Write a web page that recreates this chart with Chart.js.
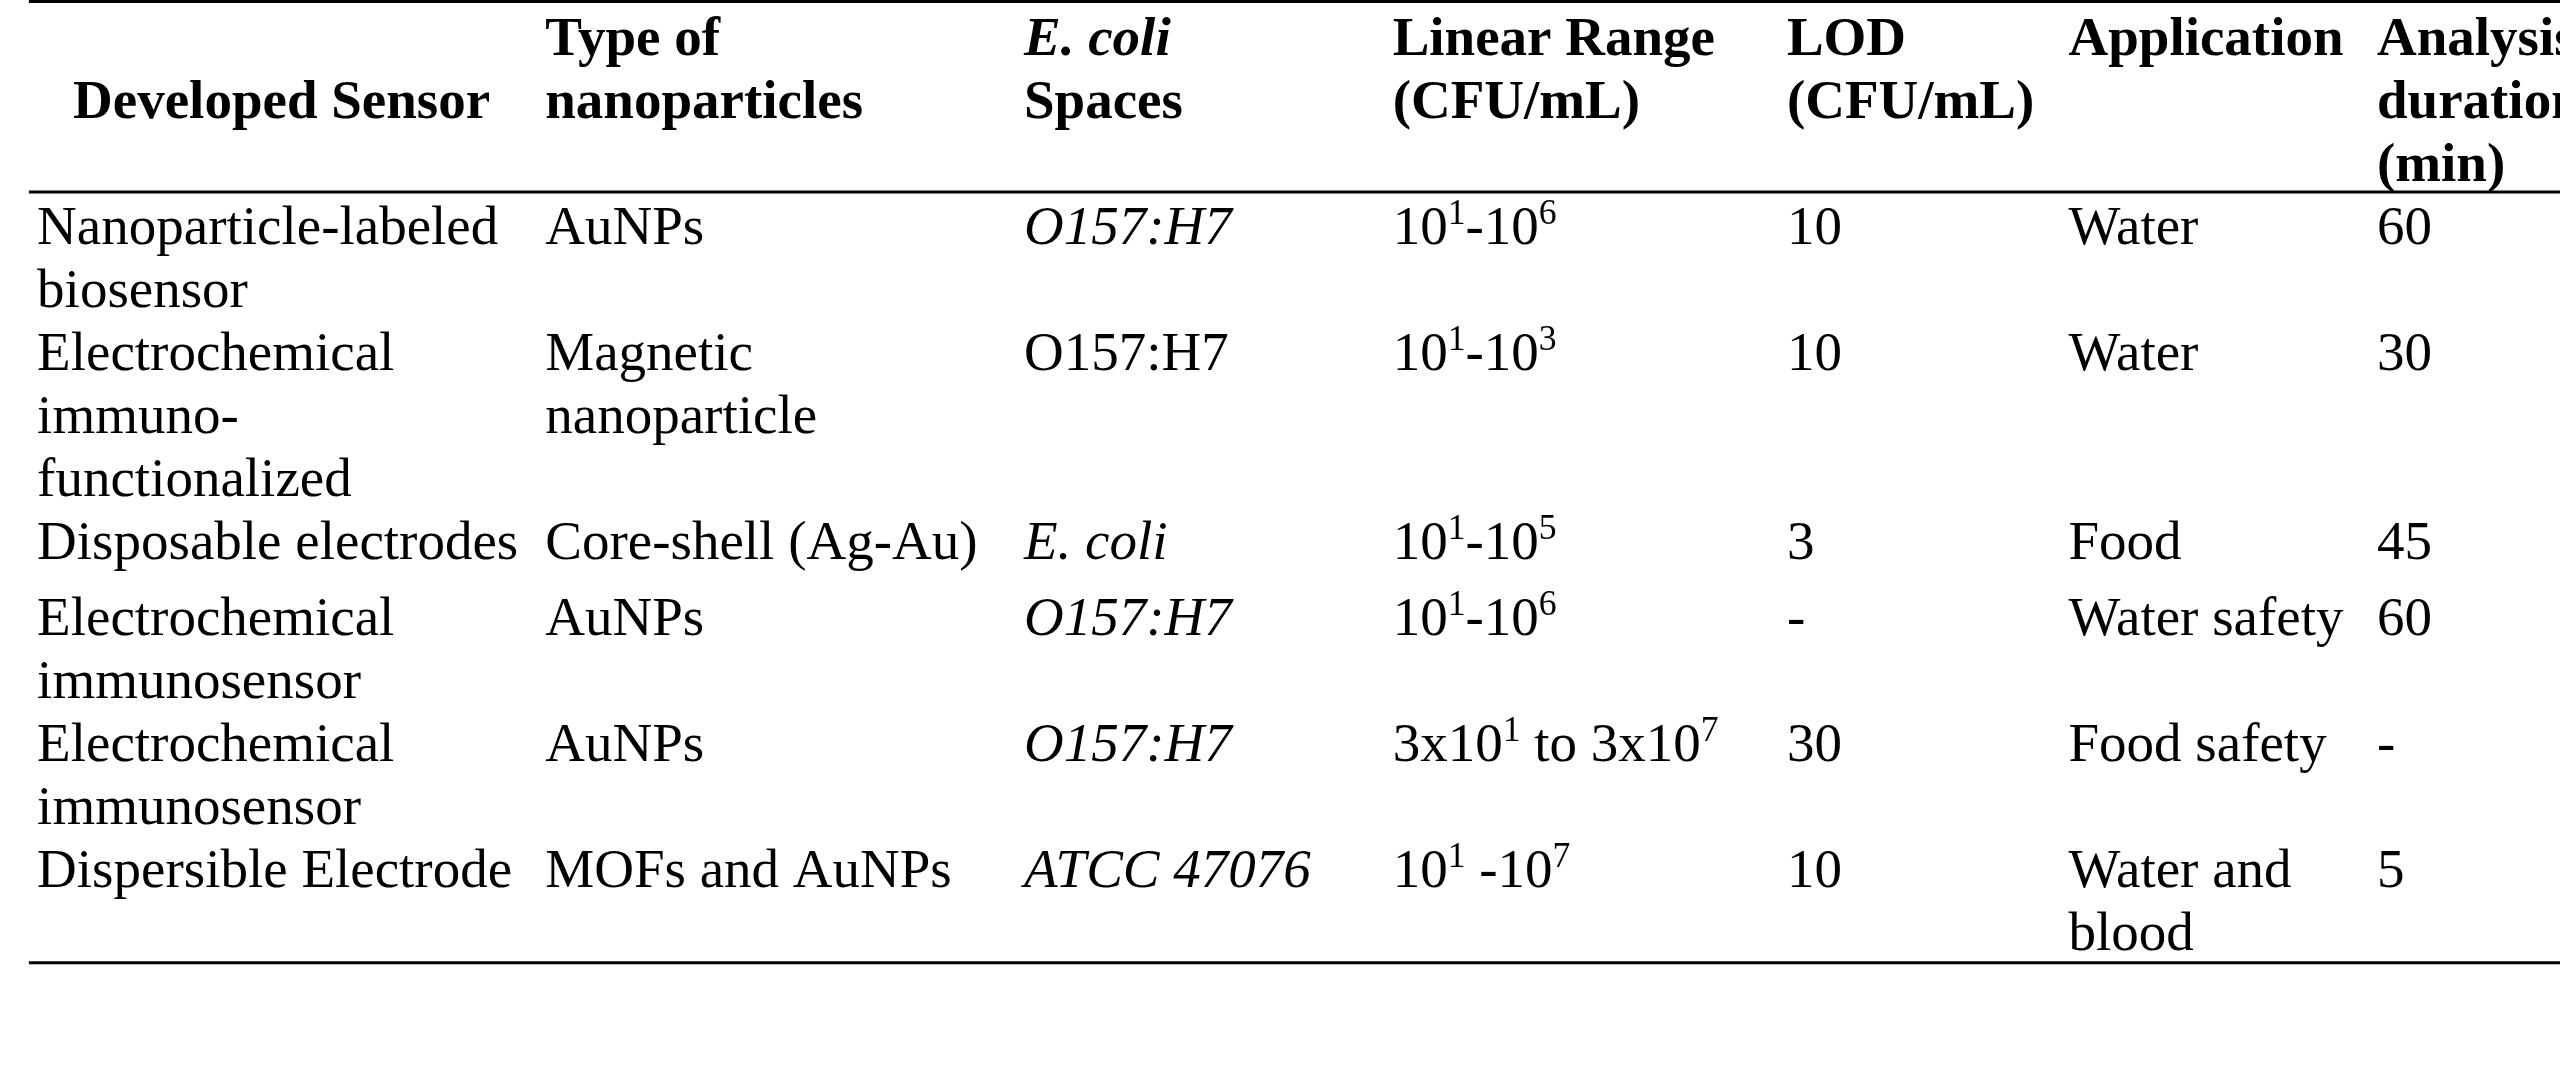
<!DOCTYPE html>
<html>
<head>
<meta charset="utf-8">
<title>Electrochemical E. coli sensors</title>
<script src="https://cdn.jsdelivr.net/npm/chart.js@4.4.1/dist/chart.umd.min.js"></script>
<style>
    html, body { margin: 0; padding: 0; background: #ffffff; }
    #wrap { width: 2560px; height: 1089px; position: relative; }
</style>
</head>
<body>
<div id="wrap"><canvas id="chart_sensors"></canvas></div>
<script>
// ****************************************************************** //
// chart_sensors --- E. coli nanoparticle sensors, drawn as a table   //
// ****************************************************************** //

// table content (*...* = italic, ^n = superscript)
const headers = [
    "Developed Sensor",
    "Type of\nnanoparticles",
    "*E. coli*\nSpaces",
    "Linear Range\n(CFU/mL)",
    "LOD\n(CFU/mL)",
    "Application",
    "Analysis\nduration\n(min)",
];
const sensors = [
    "Nanoparticle-labeled\nbiosensor",
    "Electrochemical\nimmuno-\nfunctionalized",
    "Disposable electrodes",
    "Electrochemical\nimmunosensor",
    "Electrochemical\nimmunosensor",
    "Dispersible Electrode",
];
const nanoparticles = ["AuNPs", "Magnetic\nnanoparticle", "Core-shell (Ag-Au)", "AuNPs", "AuNPs", "MOFs and AuNPs"];
const strains = ["*O157:H7*", "O157:H7", "*E. coli*", "*O157:H7*", "*O157:H7*", "*ATCC 47076*"];
const linearRange = ["10^1-10^6", "10^1-10^3", "10^1-10^5", "10^1-10^6", "3x10^1 to 3x10^7", "10^1 -10^7"];
const lod = ["10", "10", "3", "-", "30", "10"];
const application = ["Water", "Water", "Food", "Water safety", "Food safety", "Water and\nblood"];
const duration = ["60", "30", "45", "60", "-", "5"];

// layout
const FONT = '"Liberation Serif", "Times New Roman", serif';
const SIZE = 55;
const LINE = 63; // px per text line
const colLeft = [1.45, 21.3, 40.0, 54.4, 69.8, 80.8, 92.85]; // % of width
const headCenter = 11.0; // first header is centred
const rowPad = [0, 0, 0.2, 0, 0, 0];
const ruleAbove = 0.85;
const ruleBelow = 0.21;
const ruleStart = 1.13;

const body = [sensors, nanoparticles, strains, linearRange, lod, application, duration];
const nLines = (s) => s.split("\n").length;

// line index of every row
const headLines = Math.max(...headers.map(nLines));
const rowStart = [];
let k = headLines;
for (let r = 0; r < sensors.length; r++) {
    rowStart.push(k);
    k += Math.max(...body.map((col) => nLines(col[r]))) + rowPad[r];
}
const lastLine = k - 1 - rowPad[rowPad.length - 1];

const headCells = headers.map((h, c) => ({
    x: c === 0 ? headCenter : colLeft[c],
    y: c === 0 ? (headLines - 1) / 2 : 0,
    text: h,
    bold: true,
    align: c === 0 ? "center" : "left",
}));
const bodyCells = [];
body.forEach((col, c) => {
    col.forEach((txt, r) => {
        bodyCells.push({ x: colLeft[c], y: rowStart[r], text: txt, bold: false, align: "left" });
    });
});

const rule = (y) => ({
    type: "line",
    data: [{ x: ruleStart, y: y }, { x: 100, y: y }],
    borderColor: "#000000",
    borderWidth: 3,
    pointRadius: 0,
    clip: false,
});

function runs(line) {
    const out = [];
    line.split(/(\*[^*]+\*|\^\d+)/).forEach((part) => {
        if (!part) return;
        if (part[0] === "*") out.push({ t: part.slice(1, -1), italic: true });
        else if (part[0] === "^") out.push({ t: part.slice(1), sup: true });
        else out.push({ t: part });
    });
    return out;
}

function fontFor(run, bold) {
    const size = run.sup ? SIZE * 0.65 : SIZE;
    return (run.italic ? "italic " : "") + (bold ? "bold " : "") + size + "px " + FONT;
}

function drawRich(ctx, line, x, y, bold, align) {
    const parts = runs(line);
    let w = 0;
    parts.forEach((p) => {
        ctx.font = fontFor(p, bold);
        p.w = ctx.measureText(p.t).width;
        w += p.w;
    });
    let cx = align === "center" ? x - w / 2 : x;
    parts.forEach((p) => {
        ctx.font = fontFor(p, bold);
        ctx.fillText(p.t, cx, p.sup ? y - SIZE * 0.36 : y);
        cx += p.w;
    });
}

const cellText = {
    id: "cellText",
    afterDatasetsDraw(chart) {
        const ctx = chart.ctx;
        const yScale = chart.scales.y;
        ctx.save();
        ctx.fillStyle = "#000000";
        ctx.textBaseline = "alphabetic";
        ctx.textAlign = "left";
        chart.data.datasets.forEach((ds, di) => {
            if (!ds.cells) return;
            const meta = chart.getDatasetMeta(di);
            meta.data.forEach((pt, i) => {
                const cell = ds.data[i];
                cell.text.split("\n").forEach((ln, j) => {
                    drawRich(ctx, ln, pt.x, yScale.getPixelForValue(cell.y + j), cell.bold, cell.align);
                });
            });
        });
        ctx.restore();
    },
};

const ctx = document.getElementById("chart_sensors").getContext("2d");
const chart_sensors = new Chart(ctx, {
    type: "scatter",
    data: {
        datasets: [
            { label: "header", data: headCells, cells: true, pointRadius: 0 },
            { label: "body", data: bodyCells, cells: true, pointRadius: 0 },
            rule(-ruleAbove),
            rule(headLines - ruleAbove + 0.025),
            rule(lastLine + ruleBelow),
        ],
    },
    options: {
        responsive: true,
        maintainAspectRatio: false,
        animation: false,
        events: [],
        layout: { padding: 0 },
        plugins: {
            legend: { display: false },
            tooltip: { enabled: false },
        },
        scales: {
            x: { type: "linear", display: false, min: 0, max: 100 },
            y: {
                type: "linear",
                display: false,
                reverse: true,
                // baseline of line 0 sits 55px from the top
                min: -55 / LINE,
                max: (1089 - 55) / LINE,
            },
        },
    },
    plugins: [cellText],
});
</script>
</body>
</html>
